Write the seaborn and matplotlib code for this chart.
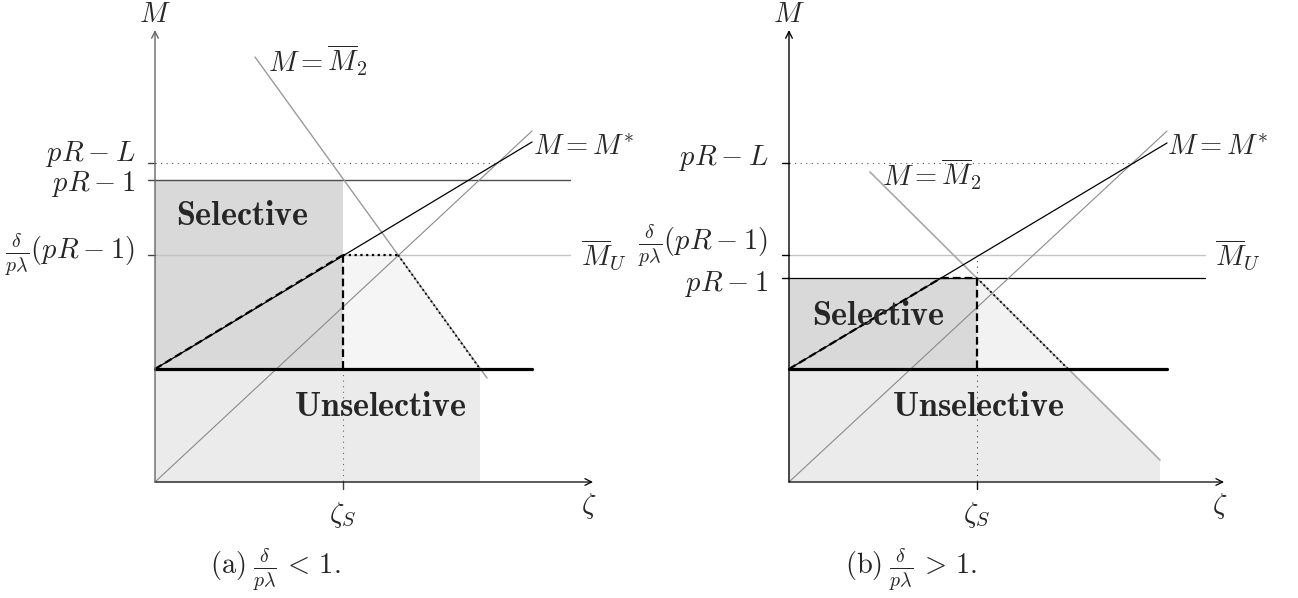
import matplotlib
matplotlib.use("Agg")
import matplotlib.pyplot as plt
import seaborn as sns

# diagram units: 1 unit = 100 px of the reference, origin at the axes crossing
# panel (a): delta/(p lambda) < 1
a_levels = {"pRL": 3.19, "pR1": 3.02, "MU": 2.27, "base": 1.13}
a_zS = 1.88
a_M2_x = [1.00, 3.32]
a_M2_y = [4.25, 1.04]
a_Mstar_x = [0.0, 3.77]
a_Mstar_y = [1.13, 3.40]
a_diag_x = [0.0, 3.77]
a_diag_y = [0.0, 3.51]
a_M2_at_MU = 2.43
a_M2_at_base = 3.25

# panel (b): delta/(p lambda) > 1
b_levels = {"pRL": 3.19, "pR1": 2.04, "MU": 2.27, "base": 1.13}
b_zS = 1.88
b_M2_x = [0.81, 3.71]
b_M2_y = [3.10, 0.22]
b_Mstar_x = [0.0, 3.78]
b_Mstar_y = [1.13, 3.39]
b_diag_x = [0.0, 3.78]
b_diag_y = [0.0, 3.51]
b_Mstar_at_pR1 = 1.52
b_M2_at_base = 2.79

FS = 20.5
FS_BOLD = 24.5
sns.set_theme(style="white")
plt.rcParams["mathtext.fontset"] = "cm"
plt.rcParams["font.family"] = ["DejaVu Serif"]

fig = plt.figure(figsize=(12.98, 5.98), dpi=100)
ax_a = fig.add_axes([0, 0, 640 / 1298, 1])
ax_b = fig.add_axes([640 / 1298, 0, 658 / 1298, 1])
ax_a.set_xlim(-1.55, 4.85)
ax_b.set_xlim(-1.49, 5.09)
for ax in (ax_a, ax_b):
    ax.set_ylim(-1.16, 4.82)
    ax.axis("off")


def seg(ax, xs, ys, color="black", lw=0.8, ls="-", z=3):
    sns.lineplot(x=xs, y=ys, ax=ax, color=color, lw=lw, ls=ls,
                 sort=False, estimator=None, zorder=z)


def fill(ax, xs, ys, color):
    ax.fill(xs, ys, color=color, lw=0, zorder=1)


def axes_arrows(ax, xend, yend, ycol):
    ax.annotate("", xy=(xend, 0), xytext=(0, 0),
                arrowprops=dict(arrowstyle="->", lw=0.9, color="black",
                                shrinkA=0, shrinkB=0), zorder=5)
    ax.annotate("", xy=(0, yend), xytext=(0, 0),
                arrowprops=dict(arrowstyle="->", lw=1.0, color=ycol,
                                shrinkA=0, shrinkB=0), zorder=5)
    ax.text(0, 4.67, r"$M$", fontsize=FS, ha="center", va="center")
    ax.text(xend - 0.04, -0.24, r"$\zeta$", fontsize=FS, ha="center", va="center")


dot_thin = (0, (1, 4))
dot_thick = (0, (1, 1.6))
dash_thick = (0, (3.5, 1.8))
ytick = 0.07

# ---------- panel (a) ----------
ax = ax_a
L = a_levels
fill(ax, [0, a_zS, a_zS, 0], [L["pR1"], L["pR1"], L["base"], L["base"]], "#d9d9d9")
fill(ax, [a_zS, a_M2_at_MU, a_M2_at_base, a_zS],
     [L["MU"], L["MU"], L["base"], L["base"]], "#f5f5f5")
fill(ax, [0, a_M2_at_base, a_M2_at_base, 0], [L["base"], L["base"], 0, 0], "#ebebeb")

seg(ax, [0, 3.45], [L["pRL"]] * 2, color="#555555", lw=0.8, ls=dot_thin)
seg(ax, [0, 4.15], [L["pR1"]] * 2, color="#4d4d4d", lw=1.0)
seg(ax, [0, 4.15], [L["MU"]] * 2, color="#c4c4c4", lw=1.0)
seg(ax, [0, 3.77], [L["base"]] * 2, color="black", lw=2.3, z=4)
seg(ax, a_diag_x, a_diag_y, color="#8a8a8a", lw=0.8)
seg(ax, a_M2_x, a_M2_y, color="#9a9a9a", lw=1.0)
seg(ax, a_Mstar_x, a_Mstar_y, color="black", lw=0.9)

seg(ax, [0, a_zS], [L["base"], L["MU"]], lw=1.6, ls=dash_thick, z=4)
seg(ax, [a_zS, a_zS], [L["MU"], L["base"]], lw=1.6, ls=dash_thick, z=4)
seg(ax, [a_zS, a_M2_at_MU], [L["MU"]] * 2, lw=1.6, ls=dot_thick, z=4)
seg(ax, [a_M2_at_MU, a_M2_at_base], [L["MU"], L["base"]], lw=1.3, ls=dot_thick, z=4)
seg(ax, [a_zS, a_zS], [L["base"], 0], color="#666666", lw=0.8, ls=dot_thin)
seg(ax, [a_zS, a_zS], [0, -ytick], color="#444444", lw=1.0)
for k in ("pRL", "pR1", "MU"):
    seg(ax, [-ytick, 0], [L[k]] * 2, color="#444444", lw=1.0)

axes_arrows(ax, 4.38, 4.52, "#666666")
ax.text(-0.20, 3.28, r"$pR-L$", fontsize=FS, ha="right", va="center")
ax.text(-0.20, 2.98, r"$pR-1$", fontsize=FS, ha="right", va="center")
ax.text(-0.20, 2.27, r"$\frac{\delta}{p\lambda}(pR-1)$", fontsize=FS, ha="right", va="center")
ax.text(4.26, 2.27, r"$\overline{M}_U$", fontsize=FS, ha="left", va="center")
ax.text(3.78, 3.34, r"$M = M^{*}$", fontsize=FS, ha="left", va="center")
ax.text(1.13, 4.22, r"$M = \overline{M}_2$", fontsize=FS, ha="left", va="center")
ax.text(a_zS, -0.33, r"$\zeta_S$", fontsize=FS, ha="center", va="center")
ax.text(0.87, 2.66, r"$\mathbf{Selective}$", fontsize=FS_BOLD, ha="center", va="center", zorder=6)
ax.text(2.255, 0.75, r"$\mathbf{Unselective}$", fontsize=FS_BOLD, ha="center", va="center", zorder=6)
ax.text(1.205, -0.88, r"$\mathrm{(a)}\;\frac{\delta}{p\lambda}\,<\,1.$", fontsize=FS,
        ha="center", va="center")

# ---------- panel (b) ----------
ax = ax_b
L = b_levels
fill(ax, [0, b_zS, b_zS, 0], [L["pR1"], L["pR1"], L["base"], L["base"]], "#d9d9d9")
fill(ax, [b_zS, b_M2_at_base, b_zS], [L["pR1"], L["base"], L["base"]], "#f2f2f2")
fill(ax, [0, b_M2_at_base, b_M2_x[1], b_M2_x[1], 0],
     [L["base"], L["base"], b_M2_y[1], 0, 0], "#ebebeb")

seg(ax, [0, 3.45], [L["pRL"]] * 2, color="#555555", lw=0.8, ls=dot_thin)
seg(ax, [0, 4.16], [L["MU"]] * 2, color="#c4c4c4", lw=1.0)
seg(ax, [0, 4.16], [L["pR1"]] * 2, color="black", lw=0.9)
seg(ax, [0, 3.78], [L["base"]] * 2, color="black", lw=2.3, z=4)
seg(ax, b_diag_x, b_diag_y, color="#8a8a8a", lw=0.8)
seg(ax, b_M2_x, b_M2_y, color="#a8a8a8", lw=1.2)
seg(ax, b_Mstar_x, b_Mstar_y, color="black", lw=0.9)

seg(ax, [0, b_Mstar_at_pR1], [L["base"], L["pR1"]], lw=1.6, ls=dash_thick, z=4)
seg(ax, [b_Mstar_at_pR1, b_zS], [L["pR1"]] * 2, lw=1.6, ls=dash_thick, z=4)
seg(ax, [b_zS, b_zS], [L["pR1"], L["base"]], lw=1.6, ls=dash_thick, z=4)
seg(ax, [b_zS, b_M2_at_base], [L["pR1"], L["base"]], lw=1.3, ls=dot_thick, z=4)
seg(ax, [b_zS, b_zS], [L["MU"], L["pR1"]], color="#444444", lw=0.8, ls=dot_thin)
seg(ax, [b_zS, b_zS], [L["base"], 0], color="#444444", lw=0.8, ls=dot_thin)
seg(ax, [b_zS, b_zS], [0, -ytick], color="black", lw=1.0)
for k in ("pRL", "pR1", "MU"):
    seg(ax, [-ytick, 0], [L[k]] * 2, color="black", lw=1.0)

axes_arrows(ax, 4.35, 4.52, "black")
ax.text(-0.21, 3.24, r"$pR-L$", fontsize=FS, ha="right", va="center")
ax.text(-0.21, 2.36, r"$\frac{\delta}{p\lambda}(pR-1)$", fontsize=FS, ha="right", va="center")
ax.text(-0.21, 1.98, r"$pR-1$", fontsize=FS, ha="right", va="center")
ax.text(4.26, 2.27, r"$\overline{M}_U$", fontsize=FS, ha="left", va="center")
ax.text(3.78, 3.34, r"$M = M^{*}$", fontsize=FS, ha="left", va="center")
ax.text(0.93, 3.08, r"$M = \overline{M}_2$", fontsize=FS, ha="left", va="center")
ax.text(b_zS, -0.33, r"$\zeta_S$", fontsize=FS, ha="center", va="center")
ax.text(0.895, 1.66, r"$\mathbf{Selective}$", fontsize=FS_BOLD, ha="center", va="center", zorder=6)
ax.text(1.89, 0.75, r"$\mathbf{Unselective}$", fontsize=FS_BOLD, ha="center", va="center", zorder=6)
ax.text(1.22, -0.88, r"$\mathrm{(b)}\;\frac{\delta}{p\lambda}\,>\,1.$", fontsize=FS,
        ha="center", va="center")

fig.savefig("out.png", dpi=100, facecolor="white")
